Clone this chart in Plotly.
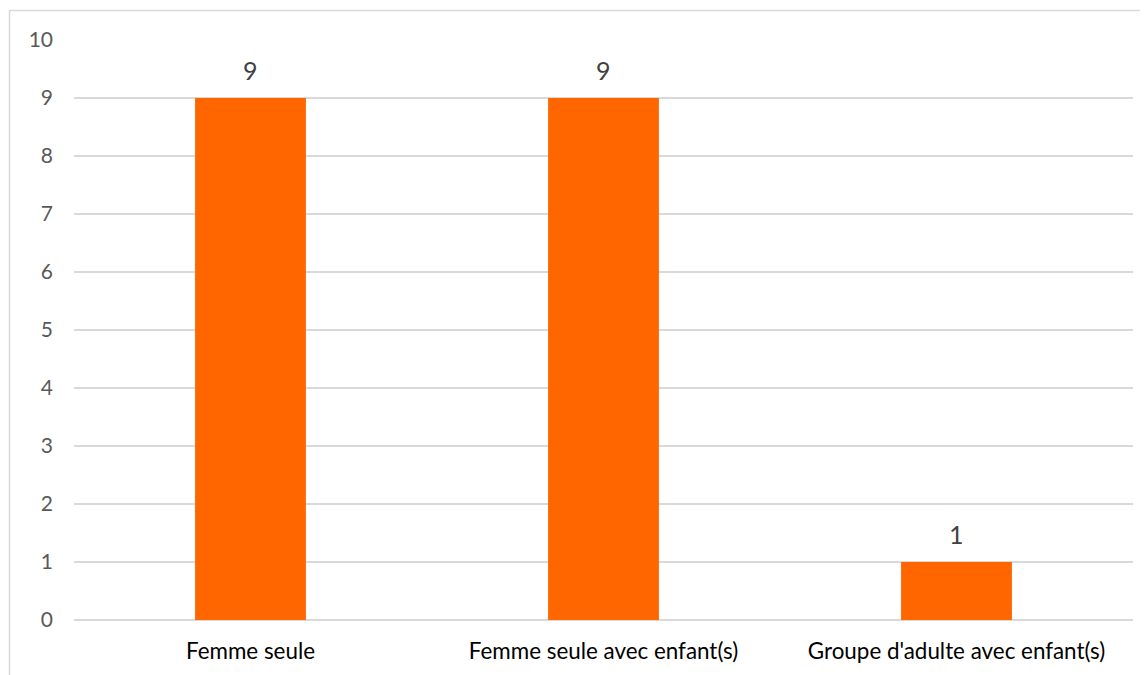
import plotly.graph_objects as go

categories = ["Femme seule", "Femme seule avec enfant(s)", "Groupe d'adulte avec enfant(s)"]
values = [9, 9, 1]
y_ticks = list(range(0, 11))

BAR_COLOR = "#FF6600"
GRID = "#D9D9D9"
FONT = "Lato"

fig = go.Figure()
fig.add_trace(go.Bar(
    x=categories, y=values,
    marker=dict(color=BAR_COLOR, line=dict(width=0)),
    hoverinfo="skip",
))

for c, v in zip(categories, values):
    fig.add_annotation(
        x=c, y=v, text=str(v), showarrow=False,
        yanchor="middle", yshift=28,
        font=dict(family=FONT, size=25, color="#404040"),
    )

# page body has an 8px offset; figure is sized to compensate
OFF = 8
W, H = 1148 - OFF, 675 - OFF
ml, mr, mt, mb = 74 - OFF, 15, 40 - OFF, 55
pw, ph = W - ml - mr, H - mt - mb
# outer chart border (left and top visible)
bx0 = (9.5 - OFF - ml) / pw
by1 = (H - mb - (10.5 - OFF)) / ph
fig.add_shape(type="rect", xref="paper", yref="paper",
              x0=bx0, x1=1.2, y0=-0.3, y1=by1,
              line=dict(color=GRID, width=1.5), fillcolor="rgba(0,0,0,0)", layer="below")

fig.update_layout(
    width=W, height=H,
    margin=dict(l=ml, r=mr, t=mt, b=mb),
    paper_bgcolor="white", plot_bgcolor="white",
    bargap=0.686,
    showlegend=False,
    font=dict(family=FONT),
)
fig.update_xaxes(
    showgrid=False, showline=False, zeroline=False, ticks="",
    tickfont=dict(family=FONT, size=22.4, color="#000000"),
    ticklabelstandoff=16,
)
fig.update_yaxes(
    range=[0, 10], tickvals=y_ticks, ticks="",
    showgrid=True, gridcolor=GRID, gridwidth=1.5,
    zeroline=True, zerolinecolor=GRID, zerolinewidth=1.5,
    showline=False,
    tickfont=dict(family=FONT, size=21, color="#595959"),
    ticklabelstandoff=20,
)

fig.write_html("out.html")
